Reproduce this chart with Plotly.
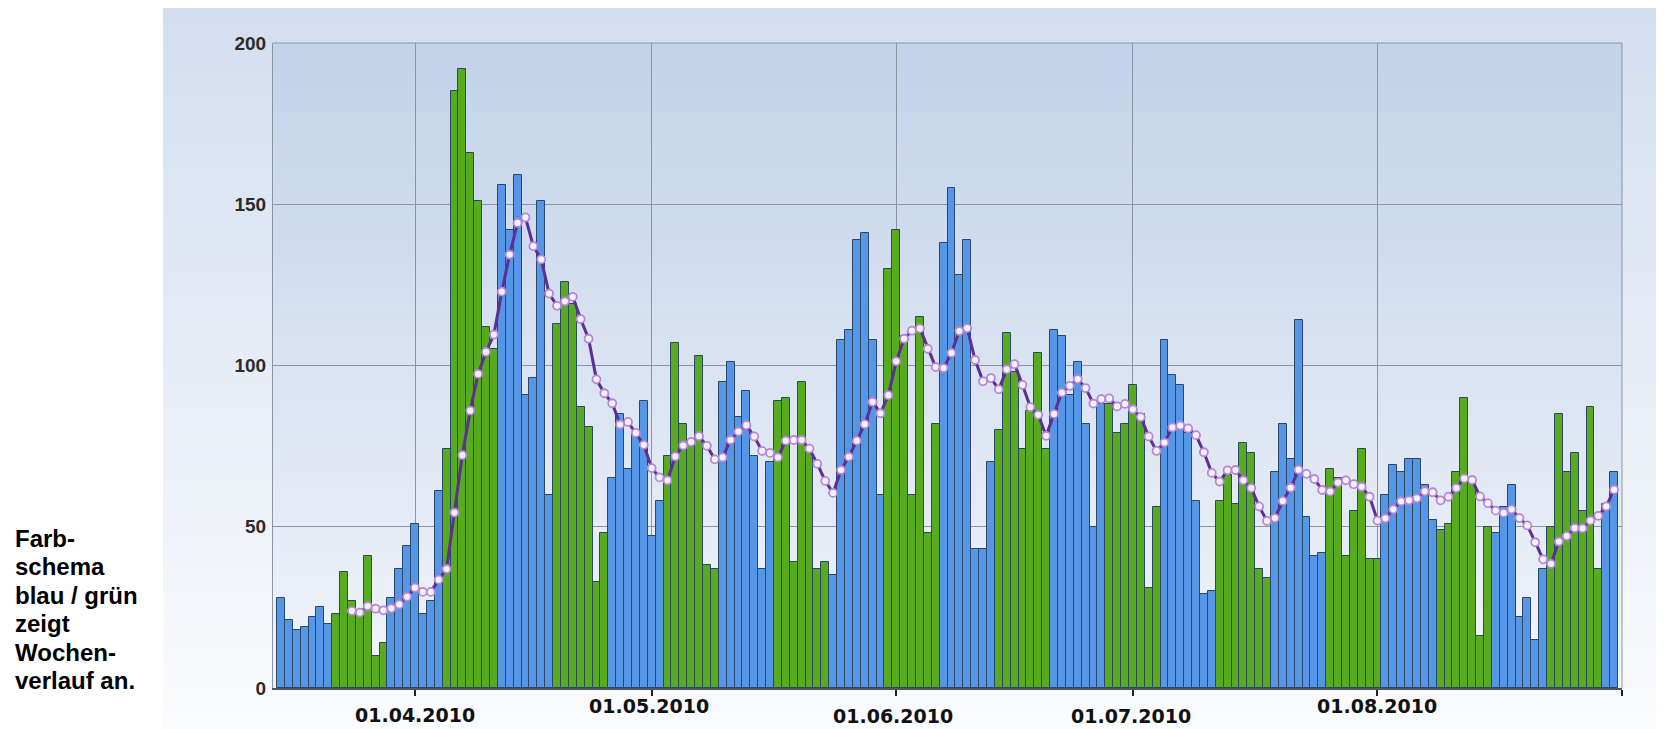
import pandas as pd
import plotly.graph_objects as go

# ---------------- data ----------------
start_date = "2010-03-15"          # first bar (Monday)
daily_counts = [
    28, 21, 18, 19, 22, 25, 20,
    23, 36, 27, 23, 41, 10, 14,
    28, 37, 44, 51, 23, 27, 61,
    74, 185, 192, 166, 151, 112, 105,
    156, 142, 159, 91, 96, 151, 60,
    113, 126, 119, 87, 81, 33, 48,
    65, 85, 68, 79, 89, 47, 58,
    72, 107, 82, 76, 103, 38, 37,
    95, 101, 84, 92, 72, 37, 70,
    89, 90, 39, 95, 74, 37, 39,
    35, 108, 111, 139, 141, 108, 60,
    130, 142, 109, 60, 115, 48, 82,
    138, 155, 128, 139, 43, 43, 70,
    80, 110, 98, 74, 86, 104, 74,
    111, 109, 91, 101, 82, 50, 88,
    88, 79, 82, 94, 85, 31, 56,
    108, 97, 94, 79, 58, 29, 30,
    58, 66, 57, 76, 73, 37, 34,
    67, 82, 71, 114, 53, 41, 42,
    68, 65, 41, 55, 74, 40, 40,
    60, 69, 67, 71, 71, 63, 52,
    49, 51, 67, 90, 64, 16, 50,
    48, 56, 63, 22, 28, 15, 37,
    50, 85, 67, 73, 55, 87, 37,
    57, 67,
]
avg_start_date = "2010-03-24"      # first point of the moving-average line
moving_average = [
    23.9, 23.4, 25.4, 24.6, 24.1, 24.7, 25.9, 28.3, 31.1, 29.8,
    29.8, 33.6, 36.9, 54.4, 72.2, 86.0, 97.4, 104.2, 109.6, 122.9,
    134.4, 144.2, 145.9, 137.0, 132.9, 122.3, 118.5, 119.9, 121.3, 114.4,
    108.3, 95.7, 91.4, 88.3, 81.7, 82.5, 79.1, 75.4, 68.2, 65.3,
    64.4, 71.8, 75.2, 76.3, 78.1, 75.1, 70.9, 71.5, 76.9, 79.5,
    81.5, 78.0, 73.5, 72.9, 71.5, 76.7, 76.9, 76.9, 74.2, 69.5,
    64.2, 60.5, 67.6, 71.7, 76.7, 81.8, 88.7, 85.2, 90.8, 101.3,
    108.3, 110.8, 111.5, 105.2, 99.5, 99.2, 103.9, 110.7, 111.6, 101.7,
    95.1, 96.1, 92.6, 98.8, 100.4, 94.0, 87.1, 84.7, 78.2, 85.0,
    91.6, 93.7, 95.8, 93.0, 88.2, 89.6, 89.8, 87.3, 88.1, 86.4,
    84.0, 78.0, 73.5, 76.1, 80.8, 81.4, 80.5, 78.4, 73.1, 66.7,
    64.0, 67.5, 67.6, 64.4, 62.0, 56.3, 51.8, 52.7, 58.0, 62.1,
    67.7, 66.4, 64.8, 61.4, 60.9, 63.7, 64.4, 63.2, 62.4, 59.3,
    51.9, 52.6, 55.4, 57.9, 58.2, 58.8, 61.0, 60.7, 58.2, 59.3,
    62.0, 65.0, 64.5, 59.4, 57.3, 55.0, 54.3, 55.4, 52.7, 50.4,
    45.2, 39.9, 38.5, 45.4, 47.1, 49.6, 49.5, 51.9, 53.4, 56.3,
    61.5,
]
month_ticks = ["2010-04-01", "2010-05-01", "2010-06-01", "2010-07-01", "2010-08-01"]
month_labels = ["01.04.2010", "01.05.2010", "01.06.2010", "01.07.2010", "01.08.2010"]
y_ticks = [0, 50, 100, 150, 200]
side_note = ["Farb-", "schema", "blau / grün", "zeigt", "Wochen-", "verlauf an."]

# ---------------- layout constants ----------------
# The page body has an 8px margin, so page pixel p maps to figure pixel p - OFF.
OFF = 8
PAGE_W, PAGE_H = 1664, 729
W, H = PAGE_W - OFF, PAGE_H - OFF
L, R, T, B = 273 - OFF, 1622 - OFF, 43 - OFF, 688 - OFF   # plot area, figure px
PW, PH = R - L, B - T


def px_x(page_px):
    return (page_px - OFF - L) / PW


def px_y(page_py):
    return (B - (page_py - OFF)) / PH


dates = pd.date_range(start_date, periods=len(daily_counts), freq="D")
avg_dates = pd.date_range(avg_start_date, periods=len(moving_average), freq="D")

BLUE = "#5597e6"
GREEN = "#58ab1f"
bar_colors = [BLUE if (k // 7) % 2 == 0 else GREEN for k in range(len(daily_counts))]

fig = go.Figure()

fig.add_trace(go.Bar(
    x=dates, y=daily_counts,
    width=86400000,
    marker=dict(color=bar_colors, line=dict(color="#2b4767", width=1)),
    showlegend=False, hoverinfo="x+y",
))

fig.add_trace(go.Scatter(
    x=avg_dates, y=moving_average, mode="lines+markers",
    line=dict(color="#5e2e94", width=3),
    marker=dict(symbol="circle", size=8, color="#f6f0fb",
                line=dict(color="#b488d8", width=1.8)),
    showlegend=False, hoverinfo="x+y",
))


def lerp(c1, c2, t):
    return tuple(round(a + (b - a) * t) for a, b in zip(c1, c2))


shapes = []


def gradient(x0, x1, y0, y1, top, bottom, n):
    for k in range(n):
        ya = y0 + (y1 - y0) * k / n
        yb = min(y0 + (y1 - y0) * (k + 1) / n + 0.6, y1)
        c = lerp(top, bottom, (k + 0.5) / n)
        shapes.append(dict(type="rect", xref="paper", yref="paper",
                           x0=px_x(x0), x1=px_x(x1), y0=px_y(yb), y1=px_y(ya),
                           fillcolor="rgb(%d,%d,%d)" % c, line=dict(width=0),
                           layer="below"))


# outer panel and plot-area backgrounds (page pixel coordinates)
gradient(163, PAGE_W, 8, PAGE_H, (211, 222, 239), (250, 251, 253), 90)
gradient(273, 1622, 43, 688, (194, 210, 233), (241, 244, 250), 90)

# frame: top and right border
shapes.append(dict(type="line", xref="paper", yref="paper", x0=0, x1=1, y0=1, y1=1,
                   line=dict(color="#8b95a2", width=1), layer="above"))
shapes.append(dict(type="line", xref="paper", yref="paper", x0=1, x1=1, y0=0, y1=1,
                   line=dict(color="#8b95a2", width=1), layer="above"))

annotations = []
label_y_px = [715, 706, 716, 716, 706]
label_xshift = [0, -3, -3, -2, 0]
for d, txt, ypx, xs in zip(month_ticks, month_labels, label_y_px, label_xshift):
    annotations.append(dict(
        x=d, xref="x", y=px_y(ypx), yref="paper", text=txt, showarrow=False,
        xanchor="center", yanchor="middle", xshift=xs,
        font=dict(family="DejaVu Sans", size=19, color="#111111", weight="bold"),
    ))

note_y_px = [538, 566, 595, 623, 652, 680]
for txt, ypx in zip(side_note, note_y_px):
    annotations.append(dict(
        x=px_x(13), xref="paper", y=px_y(ypx), yref="paper", text=txt,
        showarrow=False, xanchor="left", yanchor="middle",
        font=dict(family="Liberation Sans", size=24, color="#000000", weight="bold"),
    ))

fig.update_layout(
    width=W, height=H,
    margin=dict(l=L, r=W - R, t=T, b=H - B, pad=0),
    paper_bgcolor="#ffffff",
    plot_bgcolor="rgba(0,0,0,0)",
    bargap=0,
    shapes=shapes,
    annotations=annotations,
    xaxis=dict(
        type="date",
        range=["2010-03-14", "2010-09-01"],
        tickvals=month_ticks + ["2010-09-01"],
        showticklabels=False,
        ticks="outside", ticklen=6, tickwidth=2, tickcolor="#222222",
        showgrid=True, gridcolor="#8b95a2", gridwidth=1,
        showline=True, linecolor="#4d5661", linewidth=1.5,
        zeroline=False, fixedrange=True,
    ),
    yaxis=dict(
        range=[0, 200],
        tickvals=y_ticks,
        ticks="", ticklabelstandoff=2,
        tickfont=dict(family="Liberation Sans", size=19, color="#2e2a28", weight="bold"),
        showgrid=True, gridcolor="#8b95a2", gridwidth=1,
        showline=True, linecolor="#8b95a2", linewidth=1,
        zeroline=False, fixedrange=True,
    ),
)

fig.write_html("out.html", config={"displayModeBar": False})
